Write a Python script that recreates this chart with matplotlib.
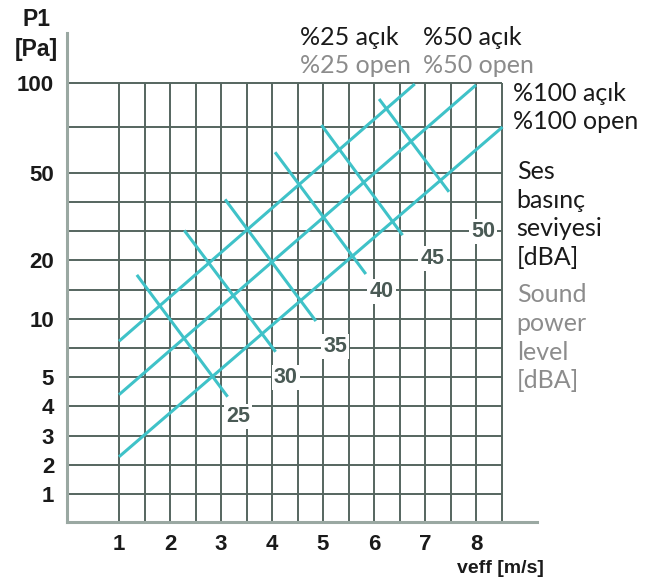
import numpy as np
import matplotlib
matplotlib.use("Agg")
import matplotlib.pyplot as plt

# ---------------- data ----------------
x_ticks = [1, 2, 3, 4, 5, 6, 7, 8]
y_ticks = [1, 2, 3, 4, 5, 10, 20, 50, 100]
y_grid = [1, 2, 3, 4, 5, 7.5, 10, 15, 20, 30, 40, 50, 75, 100]
x_grid = [1, 1.5, 2, 2.5, 3, 3.5, 4, 4.5, 5, 5.5, 6, 6.5, 7, 7.5, 8, 8.5]

# damper opening lines (veff, P1)
open25_x = [1.0, 6.8]
open25_y = [8.1, 99.3]
open50_x = [1.0, 8.0]
open50_y = [4.4, 98.7]
open100_x = [1.0, 8.52]
open100_y = [2.28, 75.0]

# sound level lines
dba_levels = ["25", "30", "35", "40", "45", "50"]
dba_x0 = [1.35, 2.28, 3.08, 4.06, 4.97, 6.10]
dba_y0 = [17.5, 30.1, 40.8, 61.2, 76.1, 90.8]
dba_x1 = [3.13, 4.07, 4.86, 5.84, 6.56, 7.47]
dba_y1 = [4.33, 7.2, 9.8, 17.65, 28.5, 43.4]
dba_lx = [3.33, 4.27, 5.24, 6.15, 7.15, 8.14]
dba_ly = [3.65, 5.0, 7.64, 14.6, 20.7, 29.7]

# ---------------- custom y scale (chart's own nonlinear axis) ----------------
scale_vals = np.array([0, 1, 2, 3, 4, 5, 7.5, 10, 15, 20, 30, 40, 50, 75, 100, 150])
scale_pos = np.array([0, 27.4, 56.7, 86, 115.4, 144.4, 173.4, 203, 232.2,
                      261.4, 291, 320, 349, 394.7, 439, 488.4])

def fwd(v):
    return np.interp(v, scale_vals, scale_pos)

def inv(p):
    return np.interp(p, scale_pos, scale_vals)

W, H = 662, 579
fig = plt.figure(figsize=(W / 100, H / 100), dpi=100)
L, R, T, B = 66.7, 536.7, 33.3, 521.7
ax = fig.add_axes([L / W, 1 - B / H, (R - L) / W, (B - T) / H])
ax.set_yscale('function', functions=(fwd, inv))
x_left = 1 - (119 - L) / 51
x_right = 1 + (R - 119) / 51
ax.set_xlim(x_left, x_right)
ax.set_ylim(0, 150)

grid_c = "#55655f"
spine_c = "#9aa8a2"
cyan = "#3fc2c8"
label_c = "#4a5a55"

ax.hlines(y_grid, x_left, 8.5, color=grid_c, lw=1.4, zorder=1)
ax.vlines(x_grid, 0, 100, color=grid_c, lw=1.4, zorder=1)

for xs, ys in [(open25_x, open25_y), (open50_x, open50_y), (open100_x, open100_y)]:
    ax.plot(xs, ys, color=cyan, lw=2.2, solid_capstyle='butt', zorder=3)

for i in range(len(dba_levels)):
    ax.plot([dba_x0[i], dba_x1[i]], [dba_y0[i], dba_y1[i]], color=cyan, lw=2.2,
            solid_capstyle='butt', zorder=3)
    ax.text(dba_lx[i], dba_ly[i], dba_levels[i], ha='center', va='center',
            fontsize=15.5, fontweight='bold', family='Liberation Sans', color=label_c,
            zorder=5, bbox=dict(boxstyle='square,pad=0.1', fc='white', ec='none'))

for s in ['top', 'right']:
    ax.spines[s].set_visible(False)
for s in ['left', 'bottom']:
    ax.spines[s].set_color(spine_c)
    ax.spines[s].set_linewidth(2.2)
    ax.spines[s].set_zorder(2)

ax.set_xticks(x_ticks)
ax.set_xticklabels([str(v) for v in x_ticks])
ax.set_yticks(y_ticks)
ax.set_yticklabels([str(v) for v in y_ticks])
ax.minorticks_off()
ax.tick_params(axis='both', length=0, labelsize=16)
ax.tick_params(axis='y', pad=9)
ax.tick_params(axis='x', pad=9)
for lab in ax.get_xticklabels() + ax.get_yticklabels():
    lab.set_fontweight('bold')
    lab.set_family('Liberation Sans')
    lab.set_color('#1a1a1a')

def ftxt(x, y, s, **kw):
    fig.text(x / W, 1 - y / H, s, **kw)

bold = dict(family='Liberation Sans', fontweight='bold', color='#1a1a1a')
ftxt(36, 26, "P1", ha='center', va='baseline', fontsize=16.5, **bold)
ftxt(36, 56, "[Pa]", ha='center', va='baseline', fontsize=16.5, **bold)
ftxt(500, 573, "veff [m/s]", ha='center', va='baseline', fontsize=14, **bold)

fnt = 'Lato'
blk = '#1a1a1a'
gry = '#8c8c8c'
fs = 18
ftxt(300, 45, "%25 açık", ha='left', va='baseline', fontsize=fs, family=fnt, color=blk)
ftxt(300, 73.3, "%25 open", ha='left', va='baseline', fontsize=fs, family=fnt, color=gry)
ftxt(422.7, 45, "%50 açık", ha='left', va='baseline', fontsize=fs, family=fnt, color=blk)
ftxt(422.7, 73.3, "%50 open", ha='left', va='baseline', fontsize=fs, family=fnt, color=gry)
ftxt(512.7, 100.7, "%100 açık", ha='left', va='baseline', fontsize=fs, family=fnt, color=blk)
ftxt(512.7, 129.3, "%100 open", ha='left', va='baseline', fontsize=fs, family=fnt, color=blk)

ses_lines = ["Ses", "basınç", "seviyesi", "[dBA]"]
snd_lines = ["Sound", "power", "level", "[dBA]"]
for i, s in enumerate(ses_lines):
    ftxt(516.7, 179.3 + i * 28.5, s, ha='left', va='baseline', fontsize=fs, family=fnt, color=blk)
for i, s in enumerate(snd_lines):
    ftxt(516.7, 302.3 + i * 28.7, s, ha='left', va='baseline', fontsize=fs, family=fnt, color=gry)

fig.savefig("out.png", dpi=100)
